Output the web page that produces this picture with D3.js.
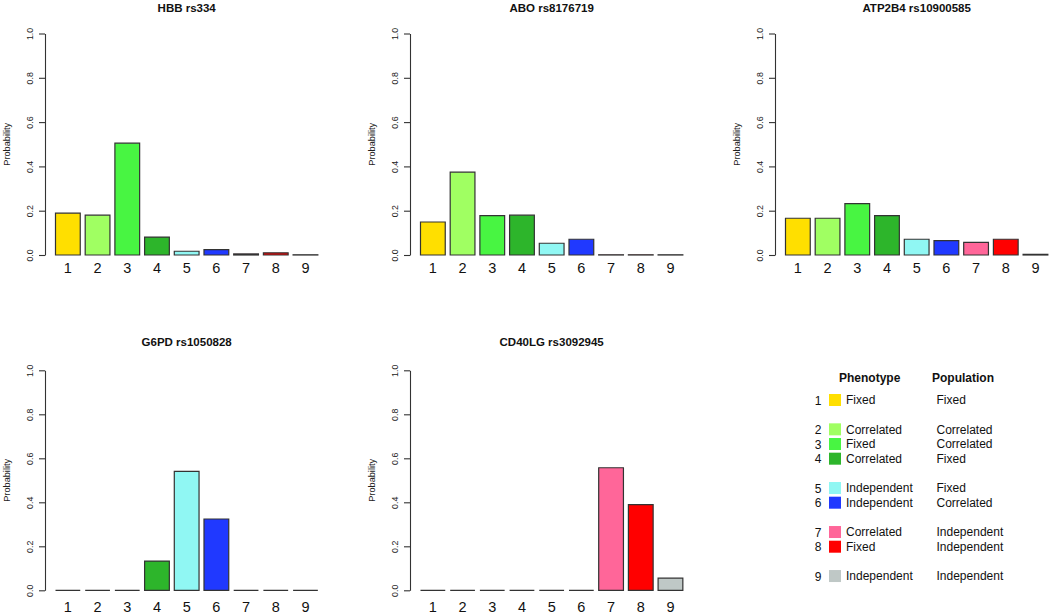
<!DOCTYPE html>
<html>
<head>
<meta charset="utf-8">
<script src="https://cdn.jsdelivr.net/npm/d3@7"></script>
<style>
  html, body { margin: 0; padding: 0; background: #fff; }
  svg { display: block; font-family: "Liberation Sans", Arial, Helvetica, sans-serif; }
</style>
</head>
<body>
<svg id="chart" width="1050" height="614"></svg>
<script>
// ---- data ----
const categories = [1, 2, 3, 4, 5, 6, 7, 8, 9];
const barColors = ["#FFDF00", "#A0FF62", "#48F542", "#2DB52B", "#90F7F3", "#2039FF", "#FF6699", "#FF0000", "#BFC8C6"];
const panelTitles = ["HBB rs334", "ABO rs8176719", "ATP2B4 rs10900585", "G6PD rs1050828", "CD40LG rs3092945"];
const hbbValues    = [0.189, 0.180, 0.505, 0.081, 0.017, 0.024, 0.005, 0.010, 0.001];
const aboValues    = [0.149, 0.374, 0.178, 0.180, 0.053, 0.071, 0.001, 0.001, 0.001];
const atp2b4Values = [0.166, 0.166, 0.232, 0.178, 0.071, 0.065, 0.057, 0.071, 0.003];
const g6pdValues   = [0.000, 0.000, 0.000, 0.133, 0.541, 0.324, 0.000, 0.000, 0.000];
const cd40lgValues = [0.000, 0.000, 0.000, 0.000, 0.000, 0.000, 0.557, 0.389, 0.055];
const yTicks = [0, 0.2, 0.4, 0.6, 0.8, 1.0];
const yLabel = "Probability";
const legendHeaders = ["Phenotype", "Population"];
const legendPhenotype  = ["Fixed", "Correlated", "Fixed", "Correlated", "Independent", "Independent", "Correlated", "Fixed", "Independent"];
const legendPopulation = ["Fixed", "Correlated", "Correlated", "Fixed", "Fixed", "Correlated", "Independent", "Independent", "Independent"];
const legendGroup = [0, 1, 1, 1, 2, 2, 3, 3, 4];

// ---- layout ----
const panelSeries = [hbbValues, aboValues, atp2b4Values, g6pdValues, cd40lgValues];
const panelPos = [
  { ax: 45,  y0: 255,   y1: 33.5,  lab: 18,   tit: 22 },
  { ax: 410, y0: 255,   y1: 33.5,  lab: 18,   tit: 22 },
  { ax: 775, y0: 255,   y1: 33.5,  lab: 18,   tit: 22 },
  { ax: 45,  y0: 590.3, y1: 370.3, lab: 22,   tit: 24 },
  { ax: 410, y0: 590.3, y1: 370.3, lab: 22,   tit: 24 }
];
const unit = 24.75;
const strokeCol = "#333";

const svg = d3.select("#chart");

panelSeries.forEach((vals, p) => {
  const pos = panelPos[p];
  const g = svg.append("g");
  // R barplot-like x scale: bars width 1, space 0.2, xlim extended 4%
  const x = d3.scaleLinear().domain([-0.224, 11.224]).range([pos.ax, pos.ax + 11.448 * unit]);
  const y = d3.scaleLinear().domain([0, 1]).range([pos.y0, pos.y1]);

  // bars as paths (so zero-height bars still show their outline)
  g.selectAll("path.bar").data(vals).enter().append("path")
    .attr("class", "bar")
    .attr("d", (d, i) => {
      const l = x(0.2 + 1.2 * i), r = x(1.2 + 1.2 * i);
      const t = y(d), b = y(0);
      return `M${l},${b}L${r},${b}L${r},${t}L${l},${t}Z`;
    })
    .attr("fill", (d, i) => barColors[i])
    .attr("stroke", strokeCol)
    .attr("stroke-width", 1.2);

  // x category labels
  g.selectAll("text.xl").data(categories).enter().append("text")
    .attr("class", "xl")
    .attr("x", (d, i) => x(0.7 + 1.2 * i))
    .attr("y", pos.y0 + pos.lab)
    .attr("text-anchor", "middle")
    .attr("font-size", 14.5)
    .attr("fill", "#111")
    .text(d => d);

  // y axis
  const axis = d3.axisLeft(y).tickValues(yTicks).tickFormat(d3.format(".1f")).tickSize(6).tickSizeOuter(0);
  const ag = g.append("g").attr("transform", `translate(${pos.ax},0)`).call(axis);
  ag.select(".domain").attr("stroke", strokeCol).attr("stroke-width", 1.1);
  ag.selectAll(".tick line").attr("stroke", strokeCol).attr("stroke-width", 1.1);
  ag.selectAll(".tick text")
    .attr("x", null).attr("dy", null)
    .attr("transform", "translate(-12.5,0) rotate(-90)")
    .attr("text-anchor", "middle")
    .attr("font-size", 8.8)
    .attr("font-family", "Liberation Sans, Arial, sans-serif")
    .attr("fill", "#222");

  // y label
  g.append("text")
    .attr("transform", `translate(${pos.ax - 35.5},${(pos.y0 + pos.y1) / 2}) rotate(-90)`)
    .attr("text-anchor", "middle")
    .attr("font-size", 9.2)
    .attr("fill", "#222")
    .text(yLabel);

  // title
  g.append("text")
    .attr("x", (x(0.2) + x(10.8)) / 2)
    .attr("y", pos.y1 - pos.tit)
    .attr("text-anchor", "middle")
    .attr("font-size", 11.5)
    .attr("font-weight", "bold")
    .attr("fill", "#111")
    .text(panelTitles[p]);
});

// ---- legend ----
const lg = svg.append("g");
const rowStep = 14.67;
const rowY = (i) => 400 + (i + legendGroup[i]) * rowStep;
lg.append("text").attr("x", 839).attr("y", 382).attr("font-size", 12).attr("font-weight", "bold").attr("fill", "#111").text(legendHeaders[0]);
lg.append("text").attr("x", 932).attr("y", 382).attr("font-size", 12).attr("font-weight", "bold").attr("fill", "#111").text(legendHeaders[1]);

categories.forEach((c, i) => {
  const cy = rowY(i);
  lg.append("text").attr("x", 818).attr("y", cy + 4.5).attr("text-anchor", "middle")
    .attr("font-size", 12).attr("fill", "#111").text(c);
  lg.append("rect").attr("x", 829).attr("y", cy - 6).attr("width", 12).attr("height", 12)
    .attr("fill", barColors[i]);
  lg.append("text").attr("x", 846).attr("y", cy + 4.3).attr("font-size", 12).attr("fill", "#111").text(legendPhenotype[i]);
  lg.append("text").attr("x", 936.5).attr("y", cy + 4.3).attr("font-size", 12).attr("fill", "#111").text(legendPopulation[i]);
});
</script>
</body>
</html>
